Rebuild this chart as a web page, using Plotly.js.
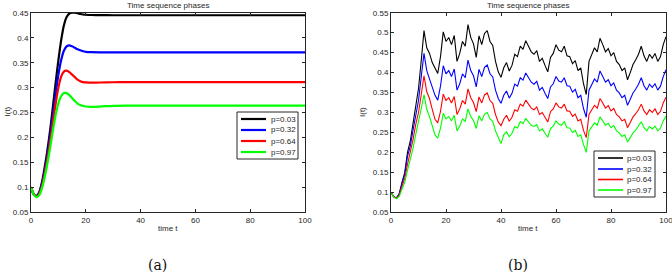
<!DOCTYPE html>
<html><head><meta charset="utf-8">
<script src="https://cdn.plot.ly/plotly-3.0.1.min.js"></script>
<style>html,body{margin:0;padding:0;background:#fff}#chart{width:672px;height:275px}</style>
</head><body><div id="chart"></div>
<script>
// ---------- data ----------
const seriesNames = ['p=0.03', 'p=0.32', 'p=0.64', 'p=0.97'];
const seriesColors = ['#000000', '#0000ff', '#ff0000', '#00ff00'];
const chartTitle = 'Time sequence phases';
const xAxisLabel = 'time t';
const yAxisLabel = 'I(t)';
const panelCaptions = ['(a)', '(b)'];

// panel (a): deterministic model
const tA = [0,1,2,3,4,5,6,7,8,9,10,11,12,13,14,15,16,17,18,19,20,22,25,30,35,40,50,60,70,80,90,100];
const aP003 = [0.100,0.085,0.082,0.090,0.110,0.140,0.175,0.215,0.262,0.310,0.355,0.395,0.425,0.442,0.449,0.4505,0.4505,0.4495,0.448,0.447,0.4465,0.446,0.4457,0.4455,0.4455,0.4455,0.4455,0.4455,0.4455,0.4455,0.4455,0.4455];
const aP032 = [0.100,0.086,0.082,0.088,0.106,0.133,0.165,0.203,0.245,0.287,0.326,0.355,0.374,0.383,0.385,0.383,0.380,0.377,0.375,0.373,0.372,0.3713,0.371,0.371,0.371,0.371,0.371,0.371,0.371,0.371,0.371,0.371];
const aP064 = [0.100,0.086,0.081,0.086,0.102,0.127,0.157,0.192,0.230,0.268,0.300,0.322,0.332,0.334,0.331,0.326,0.321,0.316,0.313,0.311,0.3105,0.310,0.3103,0.3108,0.311,0.311,0.311,0.311,0.311,0.311,0.311,0.311];
const aP097 = [0.100,0.085,0.080,0.084,0.098,0.120,0.148,0.180,0.214,0.245,0.269,0.283,0.289,0.289,0.285,0.279,0.273,0.268,0.265,0.263,0.262,0.2615,0.262,0.2635,0.264,0.264,0.264,0.264,0.264,0.264,0.264,0.264];

// panel (b): stochastic model
const tB = [0,1,2,3,4,5,6,7,8,9,10,11,12,13,14,15,16,17,18,19,20,21,22,23,24,25,26,27,28,29,30,31,32,33,34,35,36,37,38,39,40,41,42,43,44,45,46,47,48,49,50,51,52,53,54,55,56,57,58,59,60,61,62,63,64,65,66,67,68,69,70,71,72,73,74,75,76,77,78,79,80,81,82,83,84,85,86,87,88,89,90,91,92,93,94,95,96,97,98,99,100];
const bP003 = [0.100,0.089,0.086,0.097,0.125,0.150,0.200,0.228,0.272,0.318,0.360,0.430,0.505,0.462,0.448,0.425,0.412,0.398,0.440,0.502,
 0.478,0.488,0.470,0.493,0.428,0.448,0.478,0.466,0.520,0.488,0.472,0.438,0.492,0.470,0.498,0.505,0.478,0.468,0.428,0.402,
 0.388,0.412,0.425,0.404,0.418,0.446,0.440,0.466,0.458,0.480,0.466,0.452,0.446,0.455,0.428,0.436,0.418,0.402,0.438,0.448,
 0.470,0.456,0.452,0.466,0.442,0.440,0.422,0.430,0.405,0.412,0.372,0.345,0.428,0.446,0.462,0.452,0.486,0.470,0.452,0.460,
 0.442,0.450,0.428,0.420,0.405,0.412,0.382,0.400,0.420,0.432,0.446,0.466,0.442,0.428,0.446,0.436,0.448,0.428,0.440,0.470,0.490];
const bP032 = [0.100,0.089,0.086,0.096,0.122,0.145,0.190,0.215,0.255,0.295,0.330,0.390,0.448,0.405,0.385,0.362,0.343,0.331,0.366,0.417,
 0.397,0.405,0.390,0.409,0.356,0.372,0.397,0.387,0.431,0.405,0.392,0.364,0.408,0.390,0.413,0.419,0.397,0.389,0.356,0.335,
 0.323,0.343,0.354,0.336,0.348,0.371,0.366,0.387,0.381,0.399,0.387,0.376,0.371,0.378,0.356,0.363,0.348,0.335,0.364,0.372,
 0.390,0.379,0.376,0.387,0.367,0.366,0.351,0.358,0.337,0.343,0.310,0.288,0.356,0.371,0.384,0.376,0.404,0.390,0.376,0.382,
 0.367,0.374,0.356,0.349,0.337,0.343,0.318,0.333,0.349,0.359,0.371,0.387,0.367,0.356,0.371,0.363,0.372,0.356,0.366,0.390,0.407];
const bP064 = [0.100,0.089,0.085,0.093,0.115,0.135,0.170,0.198,0.232,0.270,0.300,0.345,0.392,0.352,0.335,0.308,0.283,0.274,0.303,0.346,
 0.330,0.337,0.324,0.340,0.295,0.309,0.330,0.321,0.359,0.337,0.325,0.302,0.339,0.324,0.344,0.349,0.330,0.323,0.295,0.276,
 0.267,0.283,0.293,0.278,0.288,0.307,0.303,0.321,0.316,0.331,0.321,0.311,0.307,0.314,0.295,0.300,0.288,0.276,0.302,0.309,
 0.324,0.314,0.311,0.321,0.304,0.303,0.290,0.296,0.279,0.283,0.255,0.237,0.295,0.307,0.318,0.311,0.335,0.324,0.311,0.317,
 0.304,0.310,0.295,0.289,0.279,0.283,0.262,0.275,0.289,0.297,0.307,0.321,0.304,0.295,0.307,0.300,0.309,0.295,0.303,0.324,0.338];
const bP097 = [0.100,0.088,0.084,0.090,0.108,0.125,0.155,0.180,0.210,0.245,0.275,0.310,0.345,0.308,0.290,0.265,0.244,0.236,0.261,0.298,
 0.284,0.290,0.279,0.293,0.254,0.266,0.284,0.277,0.309,0.290,0.280,0.260,0.292,0.279,0.296,0.300,0.284,0.278,0.254,0.238,
 0.222,0.244,0.252,0.239,0.248,0.265,0.261,0.277,0.272,0.285,0.277,0.268,0.265,0.270,0.254,0.259,0.248,0.238,0.260,0.266,
 0.279,0.271,0.268,0.277,0.262,0.261,0.250,0.255,0.240,0.244,0.220,0.200,0.254,0.265,0.274,0.268,0.289,0.279,0.268,0.273,
 0.262,0.267,0.254,0.249,0.240,0.244,0.226,0.237,0.249,0.256,0.265,0.277,0.262,0.254,0.265,0.259,0.266,0.254,0.261,0.279,0.291];

const xTicks = [0, 20, 40, 60, 80, 100];
const yTicksA = [0.05, 0.1, 0.15, 0.2, 0.25, 0.3, 0.35, 0.4, 0.45];
const yTickTextA = ['0.05', '0.1', '0.15', '0.2', '0.25', '0.3', '0.35', '0.4', '0.45'];
const yTicksB = [0.05, 0.1, 0.15, 0.2, 0.25, 0.3, 0.35, 0.4, 0.45, 0.5, 0.55];
const yTickTextB = ['0.05', '0.1', '0.15', '0.2', '0.25', '0.3', '0.35', '0.4', '0.45', '0.5', '0.55'];

// ---------- layout helpers ----------
const W = 672, H = 275;
const px = x => x / W;
const py = y => 1 - y / H;
const FONT = 'Liberation Sans, Arial, sans-serif';
const INK = '#262626';

const seriesA = [aP003, aP032, aP064, aP097];
const seriesB = [bP003, bP032, bP064, bP097];

const traces = [];
seriesA.forEach((ys, i) => traces.push({
  x: tA, y: ys, type: 'scatter', mode: 'lines', name: seriesNames[i],
  line: {color: seriesColors[i], width: 2.2, shape: 'spline', smoothing: 0.8},
  xaxis: 'x', yaxis: 'y', showlegend: false, hoverinfo: 'skip'
}));
seriesB.forEach((ys, i) => traces.push({
  x: tB, y: ys, type: 'scatter', mode: 'lines', name: seriesNames[i],
  line: {color: seriesColors[i], width: 1.1},
  xaxis: 'x2', yaxis: 'y2', showlegend: false, hoverinfo: 'skip'
}));

function axisBase() {
  return {
    showline: true, linecolor: INK, linewidth: 1, mirror: 'ticks',
    ticks: 'inside', ticklen: 3, tickwidth: 1, tickcolor: INK,
    showgrid: false, zeroline: false, fixedrange: true, ticklabeloverflow: 'allow',
    tickfont: {family: FONT, size: 8, color: INK}
  };
}

const layout = {
  width: W, height: H, autosize: false,
  margin: {l: 0, r: 0, t: 0, b: 0},
  paper_bgcolor: '#ffffff', plot_bgcolor: '#ffffff',
  showlegend: false,
  xaxis: Object.assign(axisBase(), {domain: [px(31), px(305)], anchor: 'y', range: [0, 100], tickmode: 'array', tickvals: xTicks}),
  yaxis: Object.assign(axisBase(), {domain: [py(212), py(13)], anchor: 'x', range: [0.05, 0.45], tickmode: 'array', tickvals: yTicksA, ticktext: yTickTextA}),
  xaxis2: Object.assign(axisBase(), {domain: [px(391), px(666)], anchor: 'y2', range: [0, 100], tickmode: 'array', tickvals: xTicks}),
  yaxis2: Object.assign(axisBase(), {domain: [py(212.3), py(12.7)], anchor: 'x2', range: [0.05, 0.55], tickmode: 'array', tickvals: yTicksB, ticktext: yTickTextB}),
  shapes: [], annotations: []
};

function txt(x, y, text, opts) {
  return Object.assign({xref: 'paper', yref: 'paper', x: px(x), y: py(y), text: text, showarrow: false,
    xanchor: 'center', yanchor: 'middle', font: {family: FONT, size: 8, color: INK}}, opts || {});
}

// titles, axis labels, captions
[[168, 'x', 'y'], [528, 'x2', 'y2']].forEach((p, k) => {
  layout.annotations.push(txt(p[0], 5, chartTitle));
  layout.annotations.push(txt(p[0], 228, xAxisLabel));
  layout.annotations.push(txt(k === 0 ? 7.5 : 363, 112, yAxisLabel, {textangle: -90}));
  layout.annotations.push(txt(k === 0 ? 157 : 518, 265, panelCaptions[k], {font: {family: 'DejaVu Serif, Liberation Serif, serif', size: 14, color: '#111'}}));
});

// legends
const legends = [
  {x0: 237, x1: 298, y0: 112, y1: 159, rows: [119, 130, 141, 152], lx: [241, 266], tx: 269, w: 2.2},
  {x0: 594, x1: 655, y0: 151, y1: 197, rows: [158, 169, 179.5, 190], lx: [598, 623], tx: 625, w: 1.6}
];
legends.forEach(L => {
  layout.shapes.push({type: 'rect', xref: 'paper', yref: 'paper', x0: px(L.x0), x1: px(L.x1), y0: py(L.y1), y1: py(L.y0),
    line: {color: INK, width: 1}, fillcolor: '#ffffff', layer: 'above'});
  seriesNames.forEach((nm, i) => {
    layout.shapes.push({type: 'line', xref: 'paper', yref: 'paper', x0: px(L.lx[0]), x1: px(L.lx[1]), y0: py(L.rows[i]), y1: py(L.rows[i]),
      line: {color: seriesColors[i], width: L.w}, layer: 'above'});
    layout.annotations.push(txt(L.tx, L.rows[i], nm, {xanchor: 'left'}));
  });
});

Plotly.newPlot('chart', traces, layout, {staticPlot: true, displayModeBar: false});
</script></body></html>
